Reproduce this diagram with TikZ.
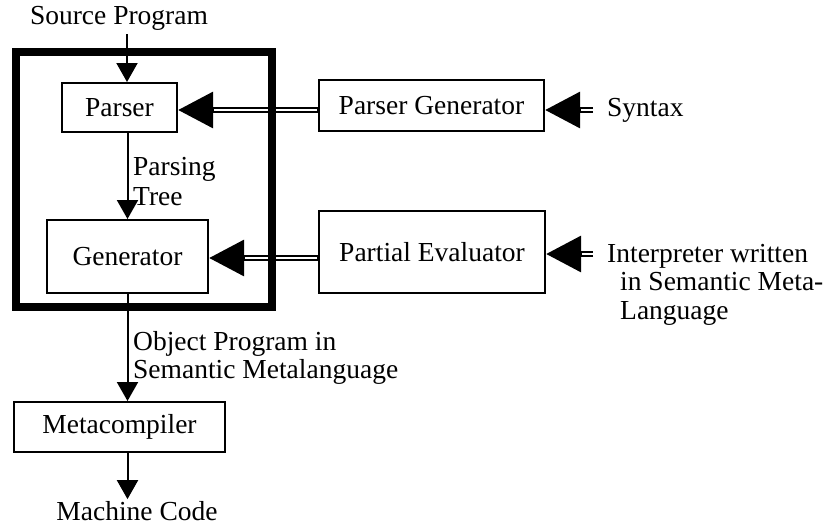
\documentclass[tikz,border=0pt]{standalone}
\usepackage{fontspec}
\setmainfont{Liberation Serif}
\usetikzlibrary{arrows.meta}
\begin{document}
\begin{tikzpicture}[x=1pt,y=-1pt,
  every node/.style={font=\fontsize{27.5}{28.5}\selectfont},
  box/.style={draw, line width=2pt, inner sep=0pt, minimum width=#1},
  lbl/.style={inner sep=0pt, align=left},
  arr/.style={line width=2pt, -{Triangle[length=19pt,width=21pt]}},
  dbl/.style={line width=6pt, -{Triangle[length=35pt,width=35pt]}},
  dblin/.style={white, line width=2pt}]
\useasboundingbox (0,0) rectangle (830,528);

% boxes
\node[box=115pt, minimum height=49pt] (parser) at (119.5,107.5) {Parser};
\node[box=161pt, minimum height=73pt] (gen) at (127.5,256.5) {Generator};
\node[box=225pt, minimum height=51pt] (pg) at (431.5,105.5) {Parser Generator};
\node[box=226pt, minimum height=82pt] (pe) at (432,252) {Partial Evaluator};
\node[box=211pt, minimum height=50pt] (meta) at (119.5,427) {Metacompiler};

% texts
\node[lbl] (src) at (119,18) {Source Program};
\node[lbl, anchor=north west] (pt) at (133,157) {Parsing\\[2pt]Tree};
\node[lbl, anchor=north west] (op) at (133,331) {Object Program in\\Semantic Metalanguage};
\node[lbl, anchor=west] (syn) at (607,110) {Syntax};
\node[lbl, anchor=north west] (interp) at (607,244) {Interpreter written\\\hspace*{13pt}in Semantic Meta-\\\hspace*{13pt}Language};
\node[inner sep=2pt] (mc) at (137,511) {Machine Code};

% thin arrows
\coordinate (s0) at (127,34);
\draw[arr] (s0) -- (s0 |- parser.north);
\draw[arr] (gen.north |- parser.south) -- (gen.north);
\draw[arr] (gen.south) -- (gen.south |- meta.north);
\draw[arr] (gen.south |- meta.south) -- (gen.south |- mc.north);

% double arrows
\coordinate (a1) at ([yshift=-4.5pt]pg.west);
\draw[dbl] (a1) -- (a1 -| parser.east);
\draw[dblin, shorten <=1pt, shorten >=36pt] (a1) -- (a1 -| parser.east);
\coordinate (a2) at ([yshift=-6pt]pe.west);
\draw[dbl] (a2) -- (a2 -| gen.east);
\draw[dblin, shorten <=1pt, shorten >=36pt] (a2) -- (a2 -| gen.east);
\coordinate (sy) at (593,110);
\draw[dbl] (sy) -- (sy -| pg.east);
\draw[dblin, shorten >=36pt] (sy) -- (sy -| pg.east);
\coordinate (iy) at (593,254);
\draw[dbl] (iy) -- (iy -| pe.east);
\draw[dblin, shorten >=36pt] (iy) -- (iy -| pe.east);

% thick enclosing box
\node[draw, line width=8pt, inner sep=0pt, minimum width=256pt, minimum height=255pt] (outer) at (144,179.5) {};
\end{tikzpicture}
\end{document}
